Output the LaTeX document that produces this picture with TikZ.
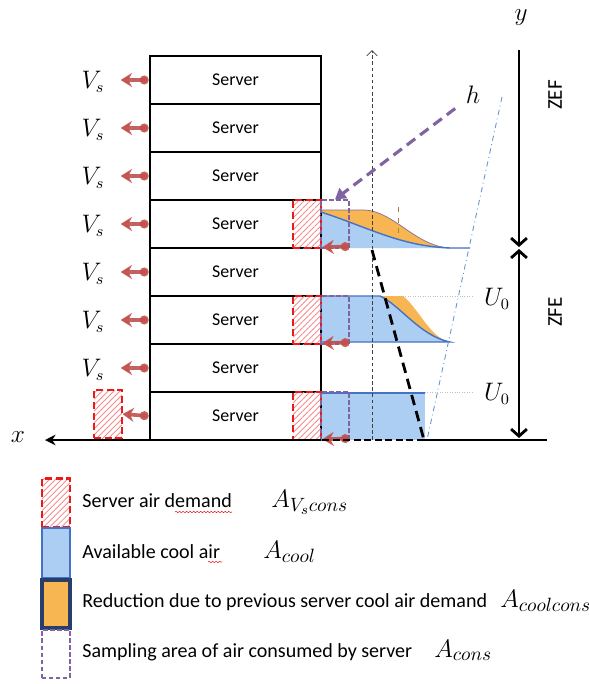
\documentclass[tikz,border=0pt]{standalone}
\usepackage[no-math]{fontspec}
\setmainfont{Carlito}
\usetikzlibrary{arrows.meta, patterns.meta, decorations.pathmorphing}

\definecolor{flowred}{RGB}{192,80,77}
\definecolor{demred}{RGB}{235,25,25}
\definecolor{coolblue}{RGB}{172,206,243}
\definecolor{coolline}{RGB}{68,114,196}
\definecolor{consorange}{RGB}{248,182,82}
\definecolor{darkframe}{RGB}{38,62,105}
\definecolor{samppurple}{RGB}{128,100,162}
\definecolor{dashblue}{RGB}{100,150,210}

\tikzset{
  serverbox/.style={draw, line width=1.6pt, minimum width=3.42cm, minimum height=0.96cm,
    inner sep=0pt, font=\fontsize{10.2}{12}\selectfont},
  demandbox/.style={draw=demred, line width=1.5pt, dash pattern=on 4pt off 2pt,
    pattern={Lines[angle=45,distance=2.4pt,line width=0.5pt]}, pattern color=demred!50,
    minimum width=0.56cm, minimum height=0.96cm, inner sep=0pt},
  sampbox/.style={draw=samppurple, line width=0.7pt, dash pattern=on 2.5pt off 1.5pt,
    minimum width=0.56cm, minimum height=0.96cm, inner sep=0pt},
  airflow/.style={flowred, line width=2.1pt, opacity=0.9,
    {Circle[length=5pt]}-{Stealth[length=6.5pt,width=8pt]}},
  axisline/.style={line width=1.6pt},
  mathlab/.style={inner sep=0pt, font=\fontsize{13.5}{15}\selectfont},
  legtext/.style={anchor=base west, inner sep=0pt, font=\fontsize{11.4}{13}\selectfont},
  legmath/.style={anchor=base west, inner sep=0pt, font=\fontsize{15.5}{17}\selectfont},
}

\begin{document}
\begin{tikzpicture}[x=0.02cm, y=-0.02cm]
  \useasboundingbox (0,0) rectangle (589,684);

  % cool air profiles
  \fill[coolblue] (321,212) .. controls (370,228) and (400,246) .. (450,248)
    -- (470,248) -- (321,248) -- cycle;
  \fill[consorange] (321,210) -- (365,210) .. controls (395,212) and (415,246) .. (450,248)
    .. controls (400,246) and (370,228) .. (321,212) -- cycle;
  \draw[samppurple!60!gray, line width=0.4pt] (321,210) -- (365,210)
    .. controls (395,212) and (415,246) .. (450,248);
  \draw[coolline, line width=0.8pt] (321,212) .. controls (370,228) and (400,246) .. (450,248)
    -- (470,248);
  \draw[consorange!70!black, line width=0.4pt, dashed] (398,207) -- (398,233);

  \fill[coolblue] (321,296) -- (380,296) .. controls (400,305) and (420,336) .. (450,342)
    -- (321,342) -- cycle;
  \fill[consorange] (380,296) -- (403,296) .. controls (420,310) and (430,338) .. (450,342)
    .. controls (420,336) and (400,305) .. (380,296) -- cycle;
  \draw[coolline, line width=0.8pt] (321,296) -- (380,296)
    .. controls (400,305) and (420,336) .. (450,342) -- (321,342);

  \fill[coolblue] (321,393) rectangle (425,440);
  \draw[coolline, line width=0.8pt] (321,393) -- (425,393);

  \draw[gray!50, densely dotted] (403,296) -- (473,296);
  \draw[gray!50, densely dotted] (425,392) -- (473,392);

  % rack
  \foreach \i in {1,...,8}
    \node[serverbox] (s\i) at (235.5,32+48*\i) {Server};

  \foreach \i in {1,...,7} {
    \node[mathlab] (vs\i) at (93,34+48*\i) {$V_s$};
    \draw[airflow] (s\i.west) -- ++(-28,0);
  }

  \node[demandbox] (d0) at (108,414) {};
  \draw[airflow] (s8.west) -- (d0.east);

  \foreach \i in {4,6,8} {
    \node[demandbox] (d\i) at (307,32+48*\i) {};
    \node[sampbox] (c\i) at (335,32+48*\i) {};
    \draw[airflow] ([yshift=1.2pt]c\i.south east) -- ([yshift=1.2pt]d\i.south east);
  }

  % guide lines
  \draw[black!75, line width=0.5pt, dash pattern=on 2pt off 1.5pt,
    -{Straight Barb[length=3pt,width=6pt]}] (372,440) -- (372,50);
  \draw[line width=1.6pt, dash pattern=on 6pt off 3.5pt] (372,250) -- (424,440);
  \draw[dashblue, line width=0.5pt, dash dot] (502,97) -- (427,440);

  \node[mathlab, font=\fontsize{15}{17}\selectfont] (hlab) at (473,95) {$h$};
  \draw[samppurple, line width=1.8pt, dash pattern=on 6pt off 3.5pt,
    -{Triangle[length=6pt,width=7pt]}, shorten <=0.26cm] (hlab) -- (c4.north);

  % axes
  \draw[axisline] (547,440) -- (424,440);
  \draw[axisline, dash pattern=on 4pt off 2pt] (424,440) -- (321,440);
  \draw[axisline, -{Stealth[length=6pt,width=6pt]}] (321,440) -- (45,440);
  \node[mathlab, font=\fontsize{15}{17}\selectfont] (xlab) at (18,437) {$x$};

  \draw[axisline, -{Straight Barb[length=4pt,width=9pt]}] (519,50) -- (519,247);
  \draw[axisline, {Straight Barb[length=4pt,width=9pt]}-{Straight Barb[length=4pt,width=9pt]}]
    (519,249) -- (519,438);
  \node[mathlab, font=\fontsize{15}{17}\selectfont] (ylab) at (521,18) {$y$};
  \node[rotate=90, font=\fontsize{12}{14}\selectfont] (zef) at (555,95) {ZEF};
  \node[rotate=90, font=\fontsize{12}{14}\selectfont] (zfe) at (555,312) {ZFE};

  \node[mathlab] (u1) at (497,299) {$U_0$};
  \node[mathlab] (u2) at (497,394) {$U_0$};

  % legend
  \node[demandbox, minimum height=0.98cm] (k1) at (56,503) {};
  \node[draw=coolline, fill=coolblue, line width=1.3pt, minimum width=0.56cm,
    minimum height=1cm, inner sep=0pt] (k2) at (56,553) {};
  \node[draw=darkframe, fill=consorange, line width=1.8pt, minimum width=0.56cm,
    minimum height=0.96cm, inner sep=0pt] (k3) at (56,604) {};
  \node[sampbox] (k4) at (56,654) {};

  \node[legtext] (t1) at (82,507) {Server air demand};
  \node[legtext] (t2) at (82,558) {Available cool air};
  \node[legtext] (t3) at (82,607) {Reduction due to previous server cool air demand};
  \node[legtext] (t4) at (82,657) {Sampling area of air consumed by server};

  \node[legmath] (m1) at (271,507) {$A_{V_s cons}$};
  \node[legmath] (m2) at (263,558) {$A_{cool}$};
  \node[legmath, font=\fontsize{15}{17}\selectfont] (m3) at (500,607) {$A_{coolcons}$};
  \node[legmath] (m4) at (434,657) {$A_{cons}$};

  \draw[demred, line width=0.3pt, decorate,
    decoration={snake, amplitude=0.4pt, segment length=2pt}] (175,512) -- (232,512);
  \draw[demred, line width=0.3pt, decorate,
    decoration={snake, amplitude=0.4pt, segment length=2pt}] (208,562) -- (222,562);
\end{tikzpicture}
\end{document}
